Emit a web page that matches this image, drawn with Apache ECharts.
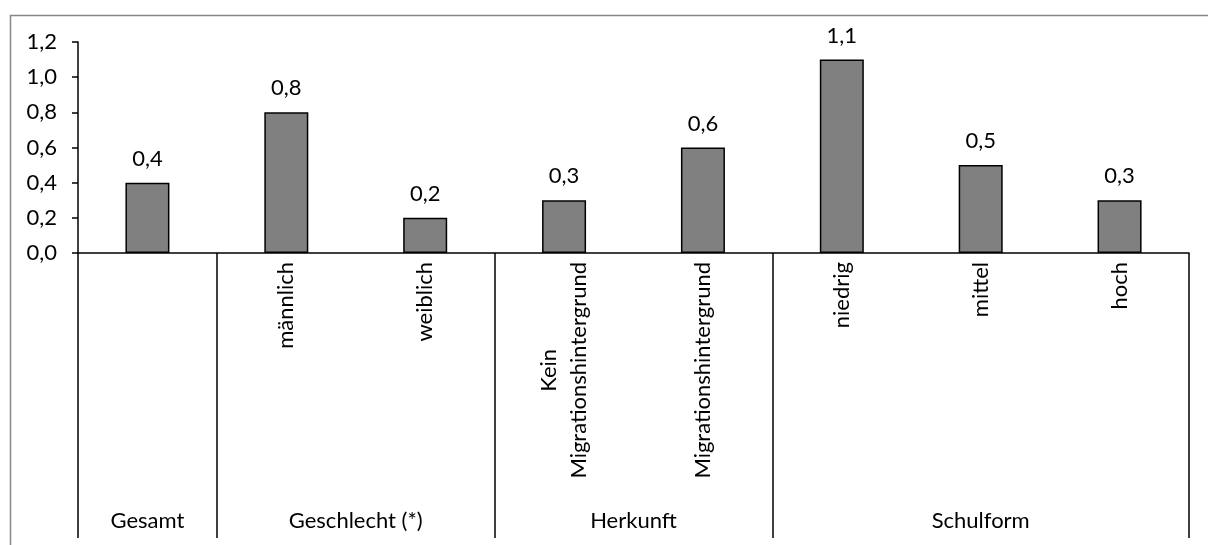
<!DOCTYPE html>
<html>
<head>
<meta charset="utf-8">
<script src="https://cdn.jsdelivr.net/npm/echarts@6/dist/echarts.min.js"></script>
<style>
html,body{margin:0;padding:0;background:#fff;}
#c{width:1208px;height:545px;}
</style>
</head>
<body>
<div id="c"></div>
<script>
// Data
const categories = ['Gesamt', 'männlich', 'weiblich', 'Kein Migrationshintergrund', 'Migrationshintergrund', 'niedrig', 'mittel', 'hoch'];
const labelMain = ['', 'männlich', 'weiblich', 'Migrationshintergrund', 'Migrationshintergrund', 'niedrig', 'mittel', 'hoch'];
const labelPrefix = ['', '', '', 'Kein', '', '', '', ''];
const values = [0.4, 0.8, 0.2, 0.3, 0.6, 1.1, 0.5, 0.3];
const groupNames = ['Gesamt', 'Geschlecht (*)', 'Herkunft', 'Schulform'];
const groupSizes = [1, 2, 2, 3];
const yTicks = [0, 0.2, 0.4, 0.6, 0.8, 1.0, 1.2];

const FONT = 'Lato';
const FS = 22;
const LH = 30;
const fmt = v => v.toFixed(1).replace('.', ',');

// text measurement for centering the two-line rotated label
const mctx = document.createElement('canvas').getContext('2d');
mctx.font = FS + 'px ' + FONT;
const tw = s => mctx.measureText(s).width;
const idx2 = labelPrefix.findIndex(s => s);
const prefixShift = idx2 >= 0 ? (tw(labelMain[idx2]) - tw(labelPrefix[idx2])) / 2 : 0;

// group boundaries & centers (in category units)
const bounds = [0];
groupSizes.forEach(s => bounds.push(bounds[bounds.length - 1] + s));
const centers = groupSizes.map((s, i) => bounds[i] + s / 2);

const MARGIN = 9;
const chart = echarts.init(document.getElementById('c'), null, {renderer: 'canvas'});
chart.setOption({
  animation: false,
  backgroundColor: '#ffffff',
  grid: {left: 78, right: 19, top: 42, bottom: 292, containLabel: false},
  graphic: [{
    type: 'rect', left: 8, top: 13, silent: true,
    shape: {x: 0, y: 0, width: 1400, height: 700},
    style: {fill: 'none', stroke: '#878787', lineWidth: 1.5}
  }],
  xAxis: [{
    type: 'category',
    data: categories,
    position: 'bottom',
    axisLine: {show: true, lineStyle: {color: '#000', width: 1.5}},
    axisTick: {show: false},
    axisLabel: {
      interval: 0, rotate: 90, margin: MARGIN,
      color: '#000', fontFamily: FONT, fontSize: FS, lineHeight: LH,
      formatter: (v, i) => (labelPrefix[i] ? ' \n' : '') + labelMain[i]
    },
    splitLine: {show: false}
  }, {
    type: 'category',
    data: categories,
    position: 'bottom',
    axisLine: {show: false},
    axisTick: {show: false},
    axisLabel: {
      interval: 0, rotate: 90, margin: MARGIN + prefixShift,
      color: '#000', fontFamily: FONT, fontSize: FS, lineHeight: LH,
      formatter: (v, i) => labelPrefix[i] ? labelPrefix[i] + '\n ' : ''
    },
    splitLine: {show: false}
  }, {
    type: 'value',
    min: 0, max: bounds[bounds.length - 1],
    position: 'bottom',
    offset: 285,
    axisLine: {show: false},
    axisTick: {show: true, inside: true, length: 285, customValues: bounds, lineStyle: {color: '#000', width: 1.5}},
    axisLabel: {
      show: true, inside: true, margin: 6,
      customValues: centers,
      color: '#000', fontFamily: FONT, fontSize: FS,
      formatter: v => { const i = centers.indexOf(v); return i >= 0 ? groupNames[i] : ''; }
    },
    splitLine: {show: false}
  }],
  yAxis: {
    type: 'value',
    min: yTicks[0], max: yTicks[yTicks.length - 1], interval: 0.2,
    axisLine: {show: true, lineStyle: {color: '#000', width: 1.5}},
    axisTick: {show: true, length: 6, lineStyle: {color: '#000', width: 1.5}},
    axisLabel: {color: '#000', fontFamily: FONT, fontSize: FS, margin: 21, formatter: v => fmt(v)},
    splitLine: {show: false}
  },
  series: [{
    type: 'bar',
    data: values,
    xAxisIndex: 0,
    barWidth: 44,
    itemStyle: {color: '#808080', borderColor: '#000', borderWidth: 1.5},
    label: {show: true, position: 'top', distance: 13, color: '#000', fontFamily: FONT, fontSize: FS, formatter: p => fmt(p.value)}
  }]
});
</script>
</body>
</html>
